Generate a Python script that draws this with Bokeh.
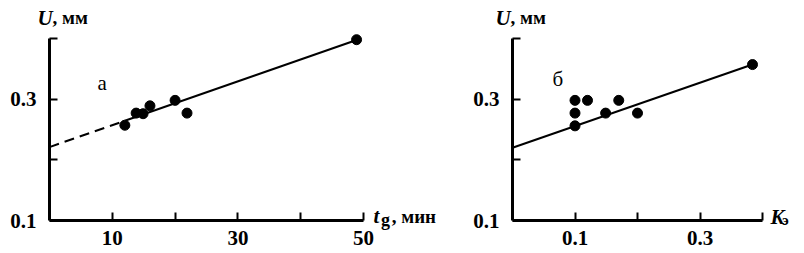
from bokeh.plotting import figure
from bokeh.layouts import row
from bokeh.models import Range1d, FixedTicker, Label, LinearAxis
from bokeh.embed import file_html
from bokeh.resources import INLINE

# ---- data ----
# panel а: U (mm) vs t_g (min)
a_t = [12, 13.8, 14.9, 16, 20, 21.9, 48.9]
a_u = [0.257, 0.277, 0.276, 0.289, 0.298, 0.277, 0.398]
a_fit_intercept = 0.221
a_fit_slope = 0.00361
a_fit_dash_x = [0, 12]
a_fit_solid_x = [12, 48.9]
a_x_bounds = (0, 50)
a_x_major = [10, 30, 50]
a_x_minor = [20, 40]

# panel б: U (mm) vs K_э
b_k = [0.1, 0.1, 0.1, 0.12, 0.149, 0.17, 0.2, 0.384]
b_u = [0.298, 0.277, 0.256, 0.298, 0.277, 0.298, 0.277, 0.357]
b_fit_intercept = 0.220
b_fit_slope = 0.357
b_fit_x = [0, 0.384]
b_x_bounds = (0, 0.4)
b_x_major = [0.1, 0.3]
b_x_minor = [0.2, 0.4]

y_bounds = (0.1, 0.4)
y_major = [0.1, 0.3]
y_minor = [0.2, 0.4]

FONT = "Liberation Serif"


def add_axes(p, xbounds, xmaj, xmin):
    xa = LinearAxis(fixed_location=y_bounds[0], bounds=xbounds,
                    ticker=FixedTicker(ticks=xmaj, minor_ticks=xmin))
    ya = LinearAxis(fixed_location=xbounds[0], bounds=y_bounds,
                    ticker=FixedTicker(ticks=y_major, minor_ticks=y_minor))
    for ax in (xa, ya):
        ax.axis_line_width = 3
        ax.axis_line_color = "black"
        ax.major_tick_in = 8
        ax.major_tick_out = 0
        ax.minor_tick_in = 8
        ax.minor_tick_out = 0
        ax.major_tick_line_width = 2
        ax.minor_tick_line_width = 2
        ax.major_tick_line_color = "black"
        ax.minor_tick_line_color = "black"
        ax.major_label_text_font = FONT
        ax.major_label_text_font_style = "bold"
        ax.major_label_text_font_size = "21px"
        ax.major_label_text_color = "black"
    xa.major_label_standoff = 10
    ya.major_label_standoff = 13
    p.add_layout(xa, "below")
    p.add_layout(ya, "left")


def base(width, xr):
    p = figure(width=width, height=253, x_range=xr,
               y_range=Range1d(0.04561, 0.4626),
               output_backend="svg", toolbar_location=None,
               x_axis_type=None, y_axis_type=None, min_border=0)
    p.grid.visible = False
    p.outline_line_color = None
    p.background_fill_color = "white"
    p.border_fill_color = "white"
    return p


def lab(p, x, y, text, size, style_="bold"):
    p.add_layout(Label(x=x, y=y, text=text, text_font=FONT,
                       text_font_size=size, text_font_style=style_,
                       text_color="black", text_baseline="alphabetic",
                       text_align="left"))


# ---- panel а ----
p1 = base(460, Range1d(-7.80, 65.45))
add_axes(p1, a_x_bounds, a_x_major, a_x_minor)
p1.line(a_fit_dash_x, [a_fit_intercept + a_fit_slope * x for x in a_fit_dash_x],
        line_color="black", line_width=2, line_dash="10 6")
p1.line(a_fit_solid_x, [a_fit_intercept + a_fit_slope * x for x in a_fit_solid_x],
        line_color="black", line_width=2)
p1.scatter(a_t, a_u, size=10, color="black")
lab(p1, -1.9, 0.434, "U", "21px", "bold italic")
lab(p1, 0.48, 0.434, ", мм", "19px")
lab(p1, 51.6, 0.107, "t", "21px", "bold italic")
lab(p1, 52.8, 0.101, "g", "18px")
lab(p1, 54.5, 0.106, ", мин", "19px")
lab(p1, 7.64, 0.327, "а", "21px", "normal")

# ---- panel б ----
p2 = base(344, Range1d(-0.0832, 0.4672))
add_axes(p2, b_x_bounds, b_x_major, b_x_minor)
p2.line(b_fit_x, [b_fit_intercept + b_fit_slope * x for x in b_fit_x],
        line_color="black", line_width=2)
p2.scatter(b_k, b_u, size=10, color="black")
lab(p2, -0.0272, 0.434, "U", "21px", "bold italic")
lab(p2, -0.0032, 0.434, ", мм", "19px")
lab(p2, 0.4128, 0.105, "K", "21px", "bold italic")
lab(p2, 0.4316, 0.101, "э", "15px")
lab(p2, 0.064, 0.333, "б", "21px", "normal")

layout = row(p1, p2)
open("out.html", "w").write(file_html(layout, INLINE))
